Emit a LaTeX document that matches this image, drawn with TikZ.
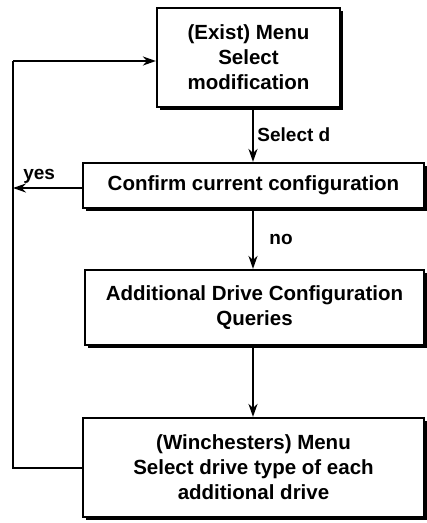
\documentclass[tikz,border=0pt]{standalone}
\usepackage{fontspec}
\setmainfont{Liberation Sans}
\usetikzlibrary{arrows.meta,positioning,shadows}

\begin{document}
\begin{tikzpicture}[
    x=1pt, y=-1pt,
    font=\bfseries\fontsize{20.5}{25}\selectfont,
    menu/.style={rectangle, draw, line width=2.2pt, fill=white, align=center, inner sep=0pt,
        drop shadow={shadow xshift=3pt, shadow yshift=-3pt, fill=black, opacity=1}},
    arrow/.style={-{Stealth[length=13pt, width=9pt]}, line width=2.2pt},
    flow/.style={line width=2.2pt},
    label/.style={font=\bfseries\fontsize{19}{22}\selectfont}
]
\useasboundingbox (0,0) rectangle (427,523);

% Menus
\node[menu, minimum width=183pt, minimum height=99pt] (exist) at (248.5, 57.5) {(Exist) Menu\\Select\\modification};
\node[menu, minimum width=341pt, minimum height=45pt] (confirm) at (253.5, 185.5) {Confirm current configuration};
\node[menu, minimum width=339pt, minimum height=75pt] (queries) at (254.5, 307.5) {Additional Drive Configuration\\Queries};
\node[menu, minimum width=341pt, minimum height=99pt] (winch) at (253.5, 467.5) {(Winchesters) Menu\\Select drive type of each\\additional drive};

% Loop corners
\coordinate (looptop) at (13, 61);
\coordinate (loopbot) at (13, 468);
\coordinate (yesend) at (13, 188);

% Main flow
\draw[arrow] (exist.south -| 253,0) -- node[label, right] {Select d} (confirm.north -| 253,0);
\draw[arrow] (confirm.south -| 253,0) -- node[label, right, xshift=12pt] {no} (queries.north -| 253,0);
\draw[arrow] (queries.south -| 253,0) -- (winch.north -| 253,0);

% Back to the first menu
\draw[arrow] (confirm.west |- yesend) -- node[label, above, pos=0.62] {yes} (yesend);
\draw[flow] (winch.west |- loopbot) -- (loopbot) -- (looptop);
\draw[arrow] (looptop) -- (exist.west |- looptop);

\end{tikzpicture}
\end{document}
